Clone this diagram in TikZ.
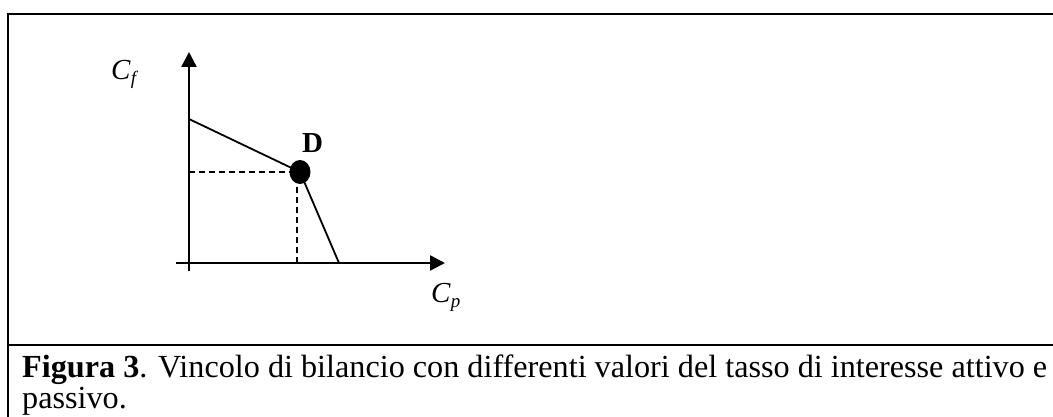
\documentclass[tikz,border=0pt]{standalone}
\usepackage{fontspec}
\setmainfont{Liberation Serif}
\usetikzlibrary{arrows.meta,shapes.geometric}
\begin{document}
\begin{tikzpicture}[x=1pt,y=-1pt,
  axis/.style={line width=2.4pt,-{Triangle[length=15pt,width=15pt]}},
  budget/.style={line width=1.8pt},
  guide/.style={line width=1.6pt,dash pattern=on 6pt off 4pt},
  frame/.style={line width=2.6pt},
  dot/.style={fill=black,ellipse,minimum width=21pt,minimum height=24pt,inner sep=0pt},
  lbl/.style={inner sep=0pt,font=\fontsize{29}{30}\selectfont},
  captext/.style={inner sep=0pt,anchor=base west,font=\fontsize{32.2}{34}\selectfont}]
\useasboundingbox (0,0) rectangle (1053,417);
% frame
\coordinate (tl) at (8,14);
\coordinate (tr) at (1053,14);
\coordinate (bl) at (8,417);
\coordinate (sl) at (8,345);
\coordinate (sr) at (1053,345);
\draw[frame] (tr) -- (tl) -- (bl);
\draw[frame] (sl) -- (sr);
% axes
\coordinate (ybot) at (189,271);
\coordinate (ytop) at (189,52);
\coordinate (xl) at (176,263);
\coordinate (xr) at (445,263);
\draw[axis] (ybot) -- (ytop);
\draw[axis] (xl) -- (xr);
% budget constraint
\coordinate (a) at (189,119);
\coordinate (Dc) at (300,172);
\coordinate (b) at (339,263);
\coordinate (hy) at (189,172);
\coordinate (vx) at (297,263);
\coordinate (vt) at (297,172);
\draw[guide] (hy) -- (Dc);
\draw[guide] (vx) -- (vt);
\draw[budget] (a) -- (Dc) -- (b);
\node[dot] (D) at (Dc) {};
% labels
\node[lbl,anchor=base west] (Dl) at (302,153) {\textbf{D}};
\node[lbl,anchor=base west] (Cf) at (111,80) {\textit{C}\raisebox{-5pt}{\fontsize{19}{20}\selectfont\textit{f}}};
\node[lbl,anchor=base west] (Cp) at (431,302) {\textit{C}\raisebox{-5pt}{\fontsize{19}{20}\selectfont\textit{p}}};
% caption
\node[captext] (cap1) at (22,377)
  {\textbf{Figura 3}. Vincolo di bilancio con differenti valori del tasso di interesse attivo e};
\node[captext] (cap2) at (22,408) {passivo.};
\end{tikzpicture}
\end{document}
